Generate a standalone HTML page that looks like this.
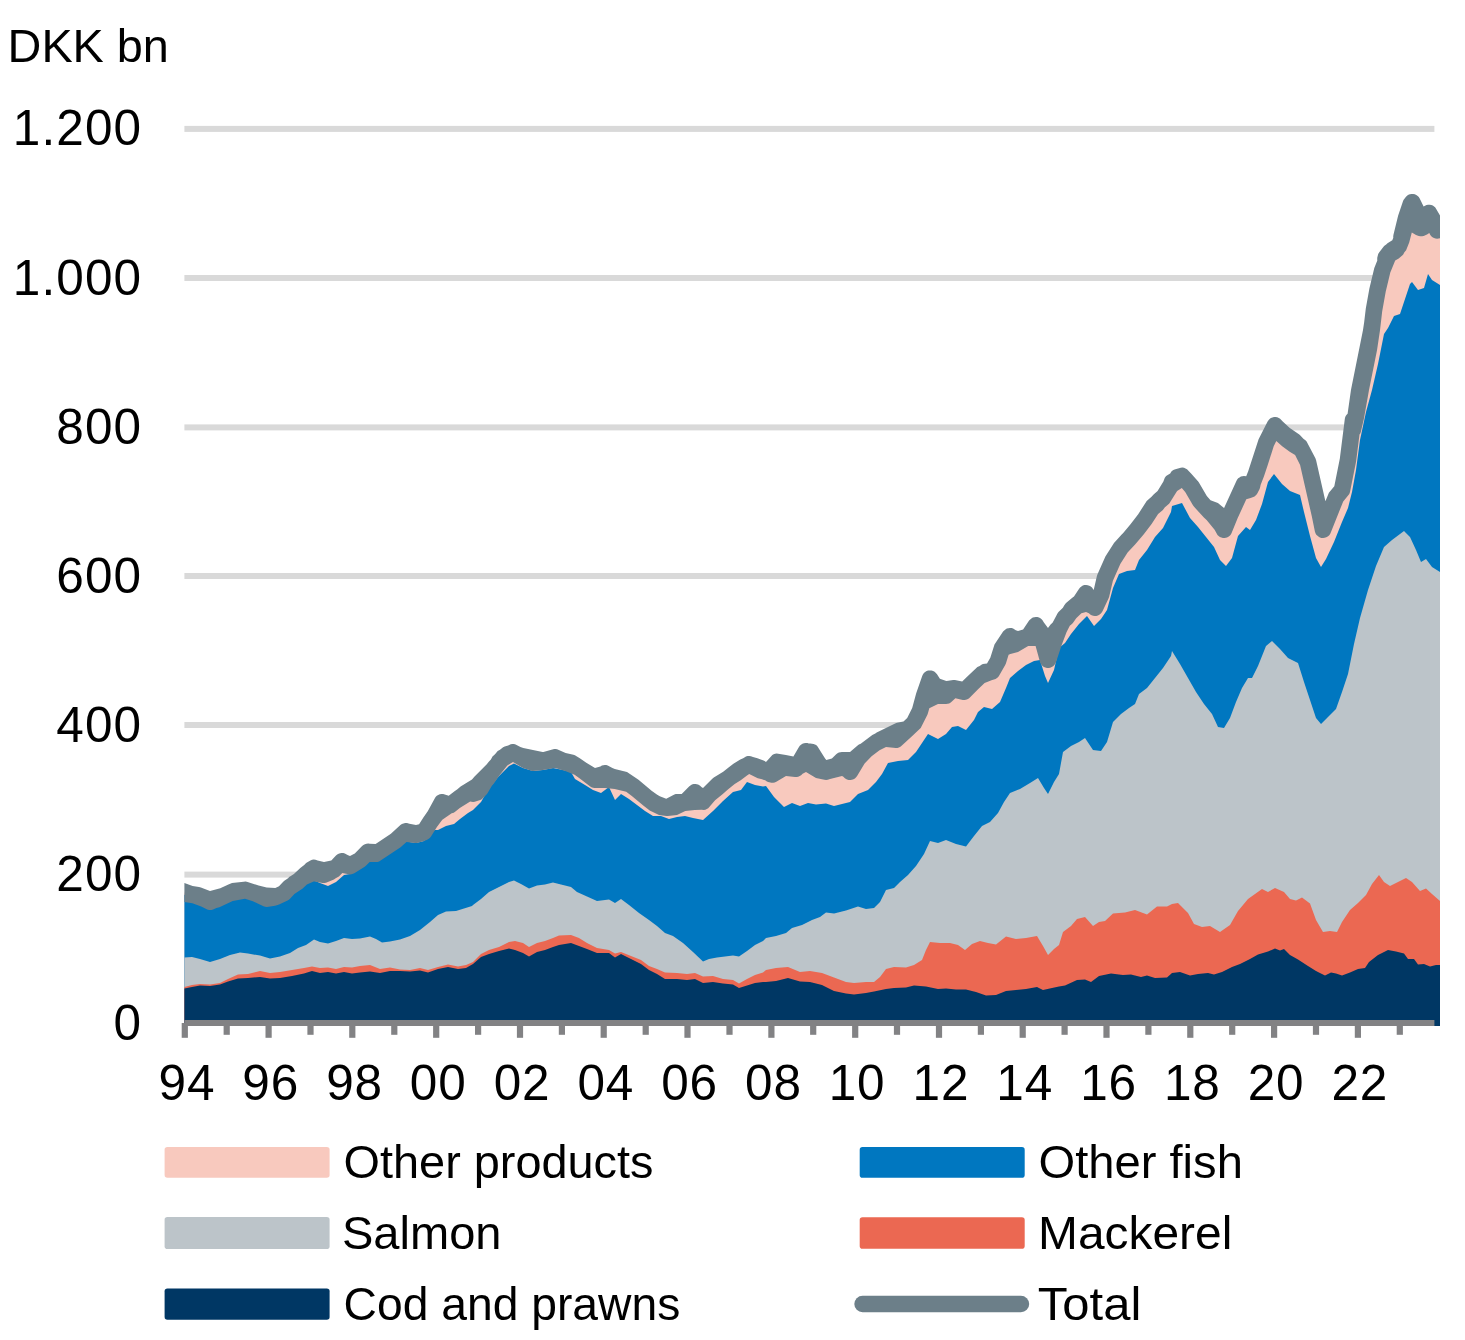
<!DOCTYPE html>
<html lang="en"><head><meta charset="utf-8"><title>Chart</title>
<style>html,body{margin:0;padding:0;background:#fff}svg{display:block}</style></head>
<body>
<svg width="1465" height="1340" viewBox="0 0 1465 1340">
<rect width="1465" height="1340" fill="#fff"/>
<rect x="184.4" y="125.9" width="1250" height="6" fill="#d9d9d9"/>
<rect x="184.4" y="275.0" width="1250" height="6" fill="#d9d9d9"/>
<rect x="184.4" y="424.4" width="1250" height="6" fill="#d9d9d9"/>
<rect x="184.4" y="573.0" width="1250" height="6" fill="#d9d9d9"/>
<rect x="184.4" y="722.0" width="1250" height="6" fill="#d9d9d9"/>
<rect x="184.4" y="871.6" width="1250" height="6" fill="#d9d9d9"/>
<g shape-rendering="geometricPrecision">
<path d="M184.4 892.5 L192.0 894.5 L200.0 896.5 L210.0 901.7 L220.0 897.7 L232.0 892.0 L245.0 889.9 L256.0 893.5 L267.0 898.7 L276.0 896.8 L284.0 893.0 L289.0 887.7 L298.0 881.6 L306.0 874.0 L314.0 867.9 L324.0 874.7 L334.0 869.8 L342.0 861.3 L350.0 866.1 L360.0 860.0 L368.0 851.9 L376.0 853.7 L384.0 848.3 L396.0 840.3 L406.0 831.3 L416.0 834.7 L424.0 832.0 L430.0 822.5 L435.0 815.5 L442.0 802.3 L450.0 805.2 L460.0 797.5 L468.0 792.5 L472.4 789.7 L473.0 793.7 L481.0 785.0 L487.0 779.0 L493.0 770.0 L503.0 757.5 L513.0 752.3 L523.0 758.0 L533.0 762.7 L543.0 761.0 L555.0 757.3 L565.0 762.0 L575.0 765.0 L585.0 772.0 L595.0 779.7 L605.0 773.3 L615.0 779.0 L627.0 782.0 L639.0 791.0 L649.0 799.5 L659.0 805.5 L667.0 807.7 L677.0 802.3 L685.0 802.5 L695.0 792.3 L703.0 801.7 L713.0 790.0 L723.0 783.0 L733.0 774.5 L741.0 769.5 L749.0 764.3 L757.0 768.0 L765.0 770.5 L766.0 772.0 L774.0 768.0 L786.0 765.5 L796.0 768.7 L806.0 751.3 L816.0 761.0 L826.0 771.7 L834.0 768.0 L842.0 760.3 L850.0 771.7 L858.0 758.5 L866.0 750.0 L876.0 742.5 L886.0 737.5 L896.0 739.7 L906.0 730.5 L914.0 723.0 L920.0 711.0 L924.0 696.0 L930.0 678.7 L938.0 691.0 L946.0 695.7 L954.0 688.3 L964.0 691.7 L972.0 683.5 L982.0 674.0 L992.0 671.5 L998.0 661.0 L1002.0 648.0 L1010.0 636.3 L1018.0 641.5 L1028.0 637.0 L1036.0 625.3 L1042.0 638.0 L1048.0 659.7 L1054.0 642.0 L1059.0 628.5 L1065.0 617.0 L1073.0 610.0 L1079.0 604.0 L1086.0 593.3 L1095.0 607.7 L1101.0 595.0 L1105.0 578.0 L1113.0 560.0 L1121.0 547.5 L1129.0 539.0 L1137.0 529.5 L1145.0 519.0 L1153.0 506.5 L1163.0 498.0 L1171.0 485.0 L1172.0 482.0 L1182.0 475.9 L1192.0 487.0 L1200.0 501.0 L1210.0 512.0 L1218.0 518.5 L1224.0 529.7 L1230.0 515.0 L1236.0 502.0 L1244.0 484.3 L1251.0 487.0 L1256.0 474.0 L1260.0 462.0 L1266.0 443.0 L1275.0 425.3 L1282.0 433.5 L1290.0 440.0 L1300.0 446.5 L1308.0 462.0 L1314.0 489.0 L1320.0 515.0 L1323.0 529.7 L1330.0 512.0 L1336.0 497.0 L1342.0 490.0 L1348.0 460.0 L1353.0 420.0 L1355.4 418.0 L1360.0 390.0 L1364.0 370.0 L1368.0 350.0 L1371.6 330.0 L1374.0 310.0 L1377.6 290.0 L1382.4 270.0 L1388.0 256.0 L1393.0 249.4 L1399.0 246.0 L1401.4 239.6 L1404.4 227.8 L1408.0 215.8 L1412.2 202.2 L1417.0 212.0 L1421.2 228.0 L1425.2 220.0 L1429.0 213.0 L1433.0 220.0 L1437.2 230.4 L1440.0 231.4 L1440.0 1026.0 L184.4 1026.0Z" fill="#f8c9be"/>
<path d="M184.4 894.8 L192.0 896.8 L200.0 898.8 L210.0 902.8 L220.0 900.0 L232.0 894.4 L245.0 892.4 L256.0 895.8 L268.0 899.8 L278.0 898.8 L286.0 892.4 L294.0 885.4 L302.0 878.4 L308.0 882.0 L313.0 880.0 L320.0 883.0 L328.0 886.0 L336.0 882.0 L344.0 875.0 L350.0 874.0 L360.0 868.0 L368.0 861.0 L376.0 862.0 L384.0 857.0 L396.0 849.0 L406.0 841.6 L416.0 843.0 L424.0 841.0 L430.0 832.0 L435.0 830.0 L438.0 830.0 L446.0 826.0 L454.0 824.0 L460.0 819.0 L468.0 813.0 L473.0 810.0 L481.0 802.0 L489.0 788.0 L499.0 776.0 L509.0 766.0 L514.0 763.6 L523.0 768.0 L533.0 771.0 L543.0 770.0 L553.0 768.0 L563.0 770.0 L571.0 772.0 L575.0 779.0 L585.0 785.0 L593.0 790.0 L601.0 793.0 L609.0 787.0 L615.0 800.0 L621.0 794.0 L629.0 799.0 L637.0 805.0 L645.0 811.0 L653.0 816.0 L661.0 816.0 L669.0 819.0 L677.0 817.0 L685.0 816.0 L693.0 818.0 L703.0 820.0 L713.0 811.0 L723.0 801.0 L733.0 792.0 L741.0 790.0 L747.0 782.0 L755.0 785.0 L763.0 786.4 L766.0 786.0 L774.0 797.0 L784.0 807.0 L792.0 803.0 L800.0 806.0 L808.0 803.0 L816.0 804.4 L826.0 803.6 L834.0 806.0 L842.0 804.0 L850.0 802.0 L858.0 794.0 L868.0 790.0 L876.0 782.0 L882.0 774.0 L888.0 763.0 L898.0 761.0 L908.0 760.0 L916.0 752.0 L924.0 740.0 L928.0 734.0 L938.0 739.0 L946.0 734.0 L952.0 727.0 L958.0 726.0 L966.0 730.0 L974.0 720.0 L978.0 712.0 L984.0 707.0 L992.0 709.0 L1000.0 702.0 L1006.0 688.0 L1010.0 678.0 L1018.0 671.0 L1026.0 665.0 L1034.0 661.0 L1040.0 660.0 L1045.0 676.0 L1048.0 683.0 L1054.0 670.0 L1059.0 648.0 L1065.0 643.0 L1071.0 634.0 L1079.0 624.0 L1087.0 616.0 L1094.0 626.0 L1101.0 619.0 L1107.0 610.0 L1113.0 588.0 L1119.0 574.0 L1127.0 571.0 L1135.0 570.0 L1139.0 560.0 L1147.0 550.0 L1155.0 537.0 L1163.0 528.0 L1171.0 512.0 L1172.0 506.0 L1182.0 503.0 L1190.0 518.0 L1198.0 527.0 L1206.0 537.0 L1214.0 547.0 L1220.0 560.0 L1226.0 566.0 L1232.0 558.0 L1238.0 536.0 L1246.0 527.0 L1250.0 530.0 L1256.0 520.0 L1262.0 504.0 L1268.0 482.0 L1274.0 474.0 L1282.0 484.0 L1290.0 491.0 L1300.0 495.0 L1304.0 512.0 L1310.0 536.0 L1316.0 558.0 L1321.0 567.0 L1326.0 559.0 L1334.0 542.0 L1342.0 522.0 L1348.0 508.0 L1352.0 492.0 L1356.0 470.0 L1360.0 440.0 L1366.0 412.0 L1372.0 390.0 L1378.0 364.0 L1384.0 334.0 L1388.0 328.0 L1394.0 316.0 L1400.0 314.0 L1404.0 302.0 L1410.0 284.0 L1412.0 282.0 L1418.0 290.0 L1424.0 288.0 L1428.0 274.0 L1432.0 280.0 L1440.0 285.0 L1440.0 1026.0 L184.4 1026.0Z" fill="#0077c0"/>
<path d="M184.4 957.6 L192.0 957.0 L200.0 959.0 L210.0 962.0 L220.0 959.0 L230.0 955.0 L240.0 952.4 L248.0 953.6 L260.0 955.6 L270.0 958.4 L280.0 956.4 L290.0 953.0 L298.0 948.0 L306.0 945.0 L314.0 939.6 L320.0 942.0 L328.0 943.6 L336.0 941.0 L344.0 938.0 L352.0 939.0 L360.0 938.4 L370.0 936.4 L376.0 939.0 L382.0 942.4 L390.0 941.6 L400.0 939.6 L410.0 936.0 L420.0 930.0 L430.0 922.0 L438.0 915.0 L446.0 911.6 L456.0 911.0 L464.0 908.4 L472.0 906.0 L473.0 905.0 L481.0 899.0 L489.0 892.0 L499.0 887.0 L509.0 882.0 L514.0 880.4 L521.0 884.0 L529.0 888.4 L537.0 885.6 L545.0 884.4 L553.0 882.4 L563.0 885.0 L571.0 887.0 L577.0 892.0 L587.0 896.4 L597.0 901.0 L609.0 899.6 L615.0 903.0 L621.0 899.0 L629.0 905.0 L639.0 913.0 L649.0 920.0 L657.0 926.0 L665.0 933.0 L673.0 936.0 L683.0 943.0 L693.0 952.0 L703.0 961.6 L709.0 959.0 L717.0 957.6 L725.0 956.4 L733.0 955.6 L739.0 956.4 L747.0 951.0 L755.0 945.0 L763.0 941.0 L766.0 938.0 L776.0 936.0 L786.0 933.0 L792.0 928.0 L802.0 925.0 L812.0 920.0 L820.0 917.0 L826.0 912.4 L834.0 913.6 L846.0 910.4 L858.0 906.4 L866.0 909.0 L874.0 908.0 L880.0 902.0 L886.0 890.0 L894.0 888.0 L900.0 882.0 L908.0 875.0 L916.0 866.0 L924.0 854.0 L930.0 841.0 L938.0 843.0 L946.0 840.0 L956.0 844.0 L966.0 846.4 L974.0 836.0 L982.0 826.0 L990.0 822.0 L998.0 813.0 L1004.0 802.0 L1010.0 793.0 L1020.0 789.0 L1030.0 783.0 L1038.0 778.0 L1044.0 788.0 L1048.0 794.0 L1054.0 782.0 L1059.0 774.0 L1063.0 752.0 L1071.0 746.0 L1079.0 742.0 L1085.0 738.0 L1093.0 750.0 L1101.0 751.0 L1107.0 742.0 L1113.0 722.0 L1121.0 714.0 L1129.0 708.0 L1135.0 704.0 L1139.0 694.0 L1147.0 688.0 L1155.0 678.0 L1163.0 668.0 L1171.0 656.0 L1172.0 651.0 L1180.0 664.0 L1188.0 678.0 L1196.0 692.0 L1204.0 704.0 L1212.0 714.0 L1218.0 727.0 L1224.0 728.0 L1230.0 718.0 L1236.0 702.0 L1242.0 688.0 L1248.0 678.0 L1252.0 678.0 L1258.0 666.0 L1266.0 646.0 L1272.0 641.0 L1280.0 649.0 L1288.0 658.0 L1298.0 663.0 L1304.0 682.0 L1310.0 700.0 L1316.0 718.0 L1321.0 724.0 L1328.0 717.0 L1336.0 709.0 L1342.0 692.0 L1348.0 674.0 L1354.0 644.0 L1360.0 618.0 L1368.0 590.0 L1376.0 566.0 L1384.0 547.0 L1392.0 540.0 L1400.0 534.0 L1404.0 531.0 L1410.0 537.0 L1416.0 550.0 L1421.0 562.0 L1426.0 559.0 L1432.0 567.0 L1440.0 572.0 L1440.0 1026.0 L184.4 1026.0Z" fill="#bcc4c9"/>
<path d="M184.4 987.0 L192.0 985.0 L200.0 984.0 L210.0 984.4 L220.0 983.0 L228.0 979.0 L238.0 974.4 L248.0 974.0 L260.0 971.0 L270.0 973.0 L280.0 972.0 L292.0 970.0 L304.0 968.0 L312.0 966.4 L320.0 968.0 L328.0 967.6 L336.0 969.0 L344.0 967.0 L352.0 967.6 L360.0 966.0 L370.0 965.0 L380.0 969.0 L390.0 967.6 L400.0 969.6 L410.0 970.0 L420.0 968.0 L428.0 970.0 L438.0 967.0 L448.0 964.4 L458.0 966.4 L466.0 965.0 L473.0 962.0 L481.0 954.0 L489.0 950.0 L499.0 947.0 L509.0 942.0 L515.0 941.0 L523.0 943.0 L529.0 947.0 L537.0 943.0 L545.0 941.0 L553.0 938.0 L559.0 935.6 L571.0 935.0 L579.0 938.0 L587.0 943.0 L597.0 948.0 L609.0 950.0 L615.0 953.6 L621.0 952.0 L631.0 956.0 L641.0 960.0 L649.0 966.0 L657.0 969.0 L665.0 972.4 L677.0 973.0 L687.0 974.0 L695.0 973.0 L703.0 976.4 L713.0 976.0 L723.0 979.0 L733.0 980.0 L739.0 983.6 L747.0 979.0 L755.0 975.0 L763.0 972.4 L766.0 970.0 L776.0 968.0 L788.0 967.0 L800.0 972.0 L810.0 971.0 L822.0 973.0 L834.0 977.6 L846.0 982.0 L854.0 983.0 L866.0 982.0 L874.0 982.0 L880.0 977.0 L886.0 969.0 L894.0 967.0 L906.0 967.6 L914.0 965.0 L922.0 960.0 L926.0 950.0 L930.0 942.0 L940.0 943.0 L950.0 943.0 L958.0 945.0 L965.0 950.0 L972.0 944.0 L980.0 941.0 L988.0 943.0 L996.0 944.4 L1006.0 936.4 L1016.0 939.0 L1026.0 938.0 L1037.0 936.0 L1043.0 946.0 L1048.0 955.0 L1054.0 949.0 L1059.0 945.0 L1063.0 932.0 L1071.0 926.0 L1077.0 919.0 L1085.0 917.0 L1093.0 926.0 L1099.0 922.0 L1105.0 921.0 L1113.0 913.6 L1125.0 912.4 L1135.0 910.0 L1147.0 914.4 L1157.0 906.4 L1167.0 906.4 L1172.0 904.0 L1178.0 903.0 L1188.0 913.0 L1194.0 924.0 L1202.0 927.0 L1210.0 926.0 L1220.0 932.0 L1230.0 925.0 L1238.0 911.0 L1248.0 899.0 L1262.0 889.0 L1268.0 892.0 L1275.0 888.0 L1284.0 892.0 L1290.0 899.0 L1296.0 900.4 L1302.0 897.6 L1310.0 903.6 L1316.0 920.0 L1323.0 932.0 L1330.0 931.0 L1337.0 932.0 L1342.0 922.0 L1350.0 910.0 L1358.0 903.0 L1366.0 895.0 L1372.0 884.0 L1379.0 875.0 L1384.0 882.0 L1390.0 886.0 L1398.0 882.0 L1406.0 878.0 L1412.0 882.0 L1420.0 891.0 L1426.0 888.4 L1432.0 894.0 L1440.0 901.0 L1440.0 1026.0 L184.4 1026.0Z" fill="#eb6852"/>
<path d="M184.4 988.4 L192.0 987.0 L200.0 985.6 L210.0 986.0 L220.0 984.4 L228.0 981.6 L238.0 978.4 L248.0 978.0 L260.0 977.0 L270.0 978.4 L280.0 978.0 L292.0 976.0 L304.0 973.6 L312.0 971.0 L320.0 973.0 L328.0 972.0 L336.0 973.6 L344.0 972.0 L352.0 973.6 L360.0 972.4 L370.0 971.6 L380.0 973.0 L390.0 971.0 L400.0 971.0 L410.0 971.6 L420.0 970.4 L428.0 972.4 L438.0 969.0 L448.0 967.0 L458.0 969.0 L466.0 968.0 L473.0 964.0 L481.0 957.0 L489.0 954.0 L499.0 951.0 L509.0 948.4 L515.0 950.0 L523.0 953.0 L529.0 956.4 L537.0 952.0 L545.0 950.0 L553.0 947.0 L559.0 945.0 L571.0 943.0 L579.0 946.0 L587.0 949.0 L597.0 953.0 L609.0 953.0 L615.0 957.6 L621.0 954.0 L631.0 959.0 L641.0 964.0 L649.0 970.0 L657.0 974.0 L665.0 979.0 L677.0 979.0 L687.0 980.0 L695.0 979.0 L703.0 983.0 L713.0 982.0 L723.0 983.6 L733.0 984.4 L739.0 988.0 L747.0 985.6 L755.0 983.0 L763.0 982.0 L766.0 982.0 L776.0 981.0 L788.0 978.0 L800.0 981.6 L810.0 982.0 L822.0 985.0 L834.0 991.0 L846.0 993.6 L854.0 994.4 L866.0 993.0 L874.0 991.6 L886.0 989.0 L894.0 988.0 L906.0 987.6 L914.0 985.6 L926.0 986.4 L938.0 989.0 L946.0 988.6 L956.0 989.6 L966.0 989.6 L976.0 992.0 L986.0 995.6 L996.0 995.0 L1006.0 991.0 L1016.0 990.0 L1026.0 989.0 L1037.0 987.0 L1043.0 990.0 L1052.0 988.0 L1059.0 986.4 L1065.0 985.6 L1077.0 980.0 L1085.0 979.6 L1091.0 982.0 L1099.0 976.0 L1111.0 973.6 L1123.0 975.0 L1131.0 974.4 L1141.0 977.0 L1147.0 975.6 L1155.0 978.0 L1167.0 977.6 L1172.0 973.0 L1180.0 972.0 L1190.0 975.6 L1198.0 974.0 L1208.0 973.0 L1214.0 974.4 L1222.0 972.0 L1232.0 967.0 L1240.0 964.0 L1250.0 959.0 L1258.0 954.4 L1268.0 951.6 L1275.0 948.4 L1280.0 950.4 L1284.0 949.0 L1290.0 955.0 L1298.0 959.6 L1308.0 966.0 L1316.0 971.0 L1325.0 975.6 L1331.0 972.4 L1336.0 973.6 L1342.0 975.6 L1350.0 972.4 L1358.0 969.0 L1365.0 968.0 L1369.0 962.0 L1378.0 955.0 L1388.0 950.0 L1396.0 951.6 L1404.0 953.6 L1408.0 959.0 L1414.0 959.0 L1418.0 964.4 L1424.0 964.0 L1430.0 966.4 L1436.0 965.0 L1440.0 965.0 L1440.0 1026.0 L184.4 1026.0Z" fill="#003764"/>
</g>
<rect x="184.4" y="1020" width="1250" height="6" fill="#828284"/>
<rect x="181.7" y="1023" width="6.2" height="14.8" fill="#828284"/>
<rect x="223.6" y="1023" width="6.2" height="11.8" fill="#828284"/>
<rect x="265.5" y="1023" width="6.2" height="14.8" fill="#828284"/>
<rect x="307.4" y="1023" width="6.2" height="11.8" fill="#828284"/>
<rect x="349.2" y="1023" width="6.2" height="14.8" fill="#828284"/>
<rect x="391.2" y="1023" width="6.2" height="11.8" fill="#828284"/>
<rect x="433.1" y="1023" width="6.2" height="14.8" fill="#828284"/>
<rect x="475.0" y="1023" width="6.2" height="11.8" fill="#828284"/>
<rect x="516.9" y="1023" width="6.2" height="14.8" fill="#828284"/>
<rect x="558.8" y="1023" width="6.2" height="11.8" fill="#828284"/>
<rect x="600.6" y="1023" width="6.2" height="14.8" fill="#828284"/>
<rect x="642.6" y="1023" width="6.2" height="11.8" fill="#828284"/>
<rect x="684.4" y="1023" width="6.2" height="14.8" fill="#828284"/>
<rect x="726.4" y="1023" width="6.2" height="11.8" fill="#828284"/>
<rect x="768.3" y="1023" width="6.2" height="14.8" fill="#828284"/>
<rect x="810.1" y="1023" width="6.2" height="11.8" fill="#828284"/>
<rect x="852.1" y="1023" width="6.2" height="14.8" fill="#828284"/>
<rect x="893.9" y="1023" width="6.2" height="11.8" fill="#828284"/>
<rect x="935.9" y="1023" width="6.2" height="14.8" fill="#828284"/>
<rect x="977.8" y="1023" width="6.2" height="11.8" fill="#828284"/>
<rect x="1019.6" y="1023" width="6.2" height="14.8" fill="#828284"/>
<rect x="1061.5" y="1023" width="6.2" height="11.8" fill="#828284"/>
<rect x="1103.4" y="1023" width="6.2" height="14.8" fill="#828284"/>
<rect x="1145.3" y="1023" width="6.2" height="11.8" fill="#828284"/>
<rect x="1187.2" y="1023" width="6.2" height="14.8" fill="#828284"/>
<rect x="1229.1" y="1023" width="6.2" height="11.8" fill="#828284"/>
<rect x="1271.0" y="1023" width="6.2" height="14.8" fill="#828284"/>
<rect x="1312.9" y="1023" width="6.2" height="11.8" fill="#828284"/>
<rect x="1354.8" y="1023" width="6.2" height="14.8" fill="#828284"/>
<rect x="1396.7" y="1023" width="6.2" height="11.8" fill="#828284"/>
<path d="M1164.7 507.4 L1169.3 503.4 L1177.1 490.9 L1181.8 488.1 L1185.2 491.9 L1192.8 505.1 L1193.9 506.6 L1203.9 517.6 L1206.6 520.0 L1214.6 529.8 L1217.5 534.9 L1218.6 536.0 L1219.9 536.9 L1221.4 537.6 L1222.9 537.9 L1224.4 538.0 L1226.0 537.8 L1227.5 537.2 L1228.8 536.5 L1230.0 535.4 L1231.0 534.2 L1231.7 532.8 L1237.6 518.3 L1246.3 499.3 L1250.6 498.1 L1253.3 497.1 L1254.5 496.5 L1255.6 495.6 L1256.6 494.6 L1257.3 493.4 L1259.6 488.9 L1260.2 487.0 L1260.6 485.1 L1263.9 476.6 L1267.9 464.6 L1273.7 446.2 L1276.3 441.1 L1282.2 446.2 L1289.7 451.8 L1295.1 455.0 L1300.1 464.9 L1311.9 516.8 L1314.9 531.4 L1315.4 532.9 L1316.1 534.4 L1317.2 535.6 L1318.4 536.6 L1319.9 537.4 L1321.5 537.9 L1323.1 538.0 L1324.7 537.8 L1326.3 537.3 L1327.7 536.5 L1329.0 535.5 L1330.0 534.2 L1330.7 532.8 L1343.2 501.4 L1349.1 494.3 L1349.7 493.0 L1350.1 491.6 L1356.1 461.6 L1359.5 434.6 L1360.4 433.2 L1360.9 431.7 L1364.0 418.2 L1369.0 390.0 L1377.0 350.2 L1380.0 330.2 L1382.2 311.2 L1385.7 291.7 L1390.3 272.5 L1395.2 260.4 L1398.7 258.4 L1402.2 255.5 L1403.2 254.4 L1404.4 252.2 L1406.1 250.2 L1409.2 242.5 L1411.8 232.4 L1416.0 234.9 L1418.7 235.9 L1420.3 236.3 L1422.0 236.3 L1423.7 235.9 L1427.0 234.4 L1429.3 232.9 L1430.3 234.9 L1431.3 236.2 L1432.5 237.3 L1434.0 238.0 L1435.5 238.5 L1437.1 238.7 L1440.0 238.3 L1440.0 215.5 L1436.2 208.9 L1435.3 207.6 L1434.1 206.5 L1432.8 205.6 L1431.3 205.0 L1429.7 204.7 L1428.1 204.7 L1426.5 205.1 L1423.6 206.6 L1419.7 198.5 L1418.8 197.1 L1417.7 195.9 L1416.3 195.0 L1414.8 194.3 L1413.2 194.0 L1411.6 193.9 L1409.9 194.2 L1408.4 194.8 L1407.0 195.7 L1405.8 196.9 L1403.5 200.0 L1402.9 201.4 L1398.1 215.7 L1393.4 235.1 L1393.2 236.7 L1393.3 237.7 L1392.3 240.3 L1387.5 243.2 L1386.2 244.6 L1384.1 246.1 L1379.1 252.6 L1378.2 254.1 L1377.3 257.6 L1377.2 259.2 L1377.3 260.4 L1374.3 268.1 L1369.4 288.5 L1365.8 308.5 L1364.2 322.0 L1363.0 329.9 L1351.0 389.8 L1347.6 413.7 L1346.6 414.7 L1345.7 416.0 L1345.1 417.4 L1344.8 419.0 L1339.8 458.7 L1334.3 486.2 L1328.9 492.7 L1325.4 501.3 L1316.1 460.2 L1315.4 458.2 L1306.6 441.5 L1305.7 440.4 L1303.4 438.8 L1300.6 435.7 L1299.3 434.5 L1289.8 427.9 L1283.0 421.8 L1280.1 418.8 L1278.8 417.9 L1277.3 417.3 L1275.6 417.0 L1274.0 417.1 L1272.4 417.4 L1270.9 418.1 L1269.6 419.0 L1268.5 420.2 L1267.6 421.5 L1258.6 439.2 L1248.2 471.2 L1246.2 476.3 L1243.9 476.0 L1242.4 476.2 L1240.9 476.6 L1239.5 477.4 L1238.2 478.3 L1237.2 479.5 L1236.4 480.9 L1224.1 507.9 L1223.7 507.7 L1217.9 503.1 L1210.5 500.2 L1206.8 496.1 L1199.2 482.9 L1198.2 481.4 L1191.3 473.7 L1187.0 469.2 L1185.5 468.4 L1184.0 467.8 L1182.4 467.6 L1180.7 467.7 L1175.4 469.2 L1173.9 469.7 L1172.6 470.5 L1171.4 471.6 L1170.2 473.4 L1167.7 474.9 L1166.5 475.8 L1165.5 476.8 L1164.7 478.0 L1163.4 481.5 L1157.6 490.9 L1153.6 494.5 L1151.8 496.6 L1146.7 501.0 L1138.2 514.2 L1130.5 524.3 L1123.0 533.3 L1121.7 534.4 L1114.0 543.0 L1105.4 556.6 L1097.4 574.6 L1096.9 576.1 L1093.7 589.9 L1092.0 587.6 L1090.8 586.5 L1089.3 585.7 L1087.7 585.2 L1086.1 585.0 L1084.4 585.1 L1082.8 585.6 L1081.4 586.4 L1080.1 587.5 L1079.1 588.8 L1074.0 596.5 L1072.3 597.7 L1066.0 603.1 L1064.3 605.2 L1062.9 607.8 L1058.5 611.9 L1057.6 613.2 L1052.7 622.6 L1051.7 623.4 L1050.6 624.5 L1048.0 627.9 L1043.9 622.6 L1042.7 620.4 L1041.6 619.2 L1040.4 618.3 L1039.0 617.5 L1037.4 617.1 L1035.9 617.0 L1034.3 617.2 L1032.8 617.6 L1031.4 618.4 L1030.2 619.4 L1029.1 620.6 L1023.1 629.5 L1018.0 631.0 L1015.8 630.2 L1013.1 628.6 L1011.6 628.1 L1010.0 628.0 L1008.4 628.2 L1006.8 628.6 L1005.4 629.4 L1004.2 630.4 L1003.1 631.6 L994.5 644.4 L990.3 657.7 L987.0 663.5 L982.9 664.1 L981.4 664.7 L979.7 666.0 L977.4 667.1 L966.3 677.5 L962.2 681.6 L954.9 680.1 L953.2 680.0 L946.5 680.9 L945.6 680.8 L939.9 678.7 L937.0 674.2 L935.9 672.9 L934.6 671.8 L933.1 671.0 L931.5 670.5 L929.8 670.4 L928.2 670.6 L926.6 671.1 L925.1 672.0 L923.9 673.1 L922.9 674.5 L922.2 676.0 L916.2 693.3 L912.2 708.0 L907.2 718.0 L903.5 721.5 L897.0 722.8 L895.1 723.5 L876.7 732.6 L875.3 733.6 L872.3 735.1 L871.0 735.9 L860.7 743.7 L858.9 744.6 L857.3 745.7 L850.0 752.0 L843.4 752.1 L842.0 752.0 L840.4 752.2 L838.9 752.6 L837.5 753.3 L836.2 754.3 L831.9 758.5 L826.3 759.9 L825.1 758.6 L818.0 747.2 L817.2 746.1 L816.1 745.1 L814.9 744.4 L813.6 743.9 L810.4 743.4 L808.7 743.5 L807.4 743.1 L805.7 743.0 L804.0 743.2 L802.4 743.8 L801.0 744.7 L799.8 745.8 L798.8 747.2 L793.4 756.5 L785.9 755.0 L778.2 753.7 L776.7 753.6 L775.1 753.8 L773.6 754.3 L772.3 755.1 L771.2 756.2 L766.0 761.9 L764.6 761.0 L763.5 760.4 L757.4 758.2 L753.0 757.0 L750.9 756.2 L749.2 756.0 L747.6 756.1 L746.0 756.6 L743.2 758.2 L740.3 759.4 L733.4 763.8 L727.6 768.2 L723.2 771.8 L713.8 777.5 L712.3 778.7 L703.0 788.0 L701.7 787.3 L700.1 785.7 L698.6 784.8 L697.0 784.2 L695.3 784.0 L693.6 784.1 L691.9 784.6 L690.4 785.4 L689.1 786.5 L681.7 794.0 L677.2 794.0 L675.8 794.1 L674.4 794.4 L666.2 798.7 L659.8 796.3 L657.2 794.7 L651.6 790.8 L638.5 779.7 L627.0 772.1 L614.8 768.9 L612.4 767.9 L607.7 765.5 L606.3 765.1 L604.8 765.0 L603.3 765.2 L601.9 765.6 L600.4 766.4 L595.0 768.0 L586.3 762.8 L579.8 758.2 L574.9 755.2 L573.4 754.7 L565.6 753.1 L557.1 749.3 L555.6 749.0 L554.1 749.1 L543.4 751.9 L542.6 751.9 L523.3 748.1 L520.4 746.9 L515.6 744.4 L514.0 744.1 L512.3 744.0 L510.7 744.3 L508.2 745.4 L504.7 746.5 L503.1 747.2 L500.0 749.7 L497.7 751.1 L495.0 754.2 L492.5 756.6 L490.9 759.4 L489.0 761.4 L486.8 764.2 L474.1 776.9 L472.0 779.6 L460.6 786.6 L457.4 789.3 L454.9 790.9 L448.7 795.7 L443.2 794.1 L441.5 794.0 L439.8 794.3 L438.2 794.9 L436.8 795.8 L435.6 797.0 L434.7 798.4 L427.9 811.1 L423.2 817.7 L419.1 824.2 L416.0 825.0 L409.4 823.7 L407.0 823.1 L405.2 823.0 L403.5 823.4 L401.9 824.1 L400.4 825.1 L390.9 833.7 L375.6 844.0 L369.9 843.8 L368.2 843.6 L366.5 843.7 L364.9 844.2 L363.4 845.0 L362.1 846.1 L354.8 853.4 L350.0 856.0 L348.1 855.3 L344.8 853.5 L343.3 853.1 L341.7 853.0 L340.1 853.2 L338.6 853.7 L337.2 854.6 L336.0 855.6 L331.3 860.5 L324.0 862.0 L317.6 860.5 L315.5 859.7 L313.8 859.6 L312.1 859.8 L310.4 860.4 L306.1 863.1 L304.2 864.9 L300.3 868.0 L293.9 874.1 L290.4 876.2 L289.1 877.1 L288.1 878.3 L284.3 880.8 L283.0 882.0 L279.0 886.2 L275.3 888.0 L266.6 887.5 L258.6 885.6 L247.6 882.0 L245.6 881.6 L243.7 881.7 L232.0 883.1 L228.4 884.5 L220.3 888.3 L210.0 891.0 L200.9 887.4 L199.0 886.9 L192.6 886.1 L184.4 883.1 L184.4 902.0 L192.4 903.2 L201.2 906.5 L206.2 909.1 L207.8 909.7 L209.6 910.0 L211.4 909.9 L213.1 909.4 L216.4 908.1 L219.4 907.2 L232.7 900.9 L245.0 898.7 L252.9 901.2 L263.5 906.2 L265.1 906.8 L266.9 907.0 L268.7 906.8 L275.0 905.8 L277.7 904.9 L279.6 904.3 L287.6 900.5 L288.9 899.7 L290.0 898.7 L294.4 894.1 L302.7 888.5 L306.9 884.6 L313.7 881.6 L314.4 881.5 L322.5 882.9 L324.3 883.0 L326.0 882.8 L333.9 879.5 L335.7 878.2 L338.9 876.5 L342.3 873.1 L348.5 874.3 L350.0 874.4 L351.5 874.3 L353.0 873.8 L354.3 873.2 L364.3 867.1 L365.9 865.8 L369.7 862.0 L377.5 861.9 L379.2 861.4 L380.6 860.6 L400.6 847.2 L406.5 842.0 L415.1 842.9 L416.9 843.0 L422.3 841.4 L426.7 839.9 L428.4 839.1 L429.8 837.9 L431.0 836.4 L436.9 827.1 L442.3 819.8 L451.7 813.3 L453.7 812.7 L455.1 811.8 L459.8 808.1 L470.2 801.5 L471.4 801.8 L473.1 802.0 L474.8 801.8 L477.1 800.9 L480.2 800.1 L481.4 799.4 L482.5 798.5 L486.3 794.7 L487.5 793.2 L491.9 785.8 L493.9 783.6 L499.7 774.9 L507.3 765.4 L513.0 762.0 L522.2 767.5 L523.9 768.3 L527.9 769.5 L531.1 770.8 L532.7 771.0 L542.7 770.0 L554.6 768.1 L555.4 768.1 L565.2 771.1 L574.6 774.8 L580.1 778.7 L589.9 786.3 L591.4 787.2 L593.0 787.7 L594.6 788.0 L605.2 788.0 L614.7 789.0 L626.2 791.8 L631.5 795.8 L643.6 805.8 L649.7 810.4 L659.0 814.9 L666.4 816.0 L667.9 815.9 L677.0 814.9 L685.3 811.0 L694.8 810.0 L701.6 809.8 L703.8 810.0 L705.4 809.7 L706.8 809.1 L708.2 808.2 L709.3 807.1 L715.1 800.3 L722.8 794.1 L727.3 790.1 L734.7 783.9 L740.7 780.2 L747.0 775.5 L749.2 774.1 L756.2 777.6 L757.8 778.2 L762.1 779.3 L763.1 779.8 L765.2 780.2 L766.5 781.3 L768.1 782.1 L771.4 782.7 L773.1 782.7 L774.7 782.4 L776.3 781.7 L786.0 776.0 L795.0 776.9 L796.7 777.0 L798.2 776.7 L799.7 776.1 L801.1 775.3 L802.6 773.7 L806.0 772.0 L816.0 777.9 L824.4 779.8 L826.1 780.0 L827.8 779.8 L830.0 779.0 L842.0 776.0 L843.4 776.7 L844.3 777.7 L845.6 778.7 L847.0 779.5 L848.6 779.9 L850.3 780.0 L851.9 779.8 L853.5 779.2 L854.9 778.4 L856.1 777.3 L857.1 776.0 L864.6 763.6 L871.6 756.2 L879.5 750.2 L886.0 747.0 L895.8 748.0 L897.4 747.9 L898.9 747.5 L900.4 746.8 L901.6 745.8 L911.7 736.6 L920.7 728.0 L927.4 714.7 L928.0 713.1 L929.3 708.2 L938.0 704.1 L944.6 703.9 L946.1 704.0 L947.6 703.8 L949.1 703.4 L950.4 702.7 L951.6 701.8 L955.4 698.3 L962.8 699.9 L964.4 700.0 L965.9 699.8 L967.4 699.3 L968.8 698.5 L969.9 697.5 L977.8 689.4 L984.6 682.9 L991.5 680.2 L995.6 679.0 L997.0 678.1 L998.2 677.0 L999.2 675.6 L1005.2 665.1 L1005.9 663.4 L1008.6 654.8 L1010.4 653.9 L1018.0 651.9 L1028.2 646.0 L1035.6 646.0 L1040.0 661.9 L1040.6 663.4 L1041.4 664.8 L1042.6 666.0 L1043.9 666.9 L1045.4 667.6 L1047.0 667.9 L1048.6 668.0 L1050.2 667.7 L1051.7 667.1 L1053.1 666.3 L1054.2 665.2 L1055.2 663.8 L1055.9 662.4 L1061.8 644.8 L1066.6 631.9 L1069.8 625.8 L1072.2 623.7 L1073.6 622.1 L1076.2 618.3 L1081.4 613.3 L1086.0 612.0 L1088.9 613.3 L1090.2 614.4 L1091.6 615.3 L1093.1 615.8 L1094.7 616.0 L1096.3 615.9 L1097.9 615.5 L1099.3 614.8 L1100.6 613.8 L1101.7 612.6 L1102.5 611.2 L1108.5 598.5 L1109.1 596.9 L1112.9 580.7 L1120.3 563.9 L1127.6 552.6 L1135.3 544.3 L1143.6 534.5 L1151.6 524.0 L1158.1 513.9 L1162.9 509.9Z" fill="#6c7f89" fill-rule="evenodd"/>
<text x="7.6" y="62.3" font-size="46.8" font-family="'Liberation Sans', sans-serif" fill="#000">DKK bn</text>
<text x="142.2" y="145.4" font-size="49.5" letter-spacing="1.1" text-anchor="end" font-family="'Liberation Sans', sans-serif" fill="#000">1.200</text>
<text x="142.2" y="294.5" font-size="49.5" letter-spacing="1.1" text-anchor="end" font-family="'Liberation Sans', sans-serif" fill="#000">1.000</text>
<text x="142.2" y="443.9" font-size="49.5" letter-spacing="1.1" text-anchor="end" font-family="'Liberation Sans', sans-serif" fill="#000">800</text>
<text x="142.2" y="592.5" font-size="49.5" letter-spacing="1.1" text-anchor="end" font-family="'Liberation Sans', sans-serif" fill="#000">600</text>
<text x="142.2" y="741.5" font-size="49.5" letter-spacing="1.1" text-anchor="end" font-family="'Liberation Sans', sans-serif" fill="#000">400</text>
<text x="142.2" y="891.1" font-size="49.5" letter-spacing="1.1" text-anchor="end" font-family="'Liberation Sans', sans-serif" fill="#000">200</text>
<text x="142.2" y="1039.8" font-size="49.5" letter-spacing="1.1" text-anchor="end" font-family="'Liberation Sans', sans-serif" fill="#000">0</text>
<text x="186.9" y="1100.4" font-size="49.5" letter-spacing="0.8" text-anchor="middle" font-family="'Liberation Sans', sans-serif" fill="#000">94</text>
<text x="270.7" y="1100.4" font-size="49.5" letter-spacing="0.8" text-anchor="middle" font-family="'Liberation Sans', sans-serif" fill="#000">96</text>
<text x="354.5" y="1100.4" font-size="49.5" letter-spacing="0.8" text-anchor="middle" font-family="'Liberation Sans', sans-serif" fill="#000">98</text>
<text x="438.2" y="1100.4" font-size="49.5" letter-spacing="0.8" text-anchor="middle" font-family="'Liberation Sans', sans-serif" fill="#000">00</text>
<text x="522.0" y="1100.4" font-size="49.5" letter-spacing="0.8" text-anchor="middle" font-family="'Liberation Sans', sans-serif" fill="#000">02</text>
<text x="605.8" y="1100.4" font-size="49.5" letter-spacing="0.8" text-anchor="middle" font-family="'Liberation Sans', sans-serif" fill="#000">04</text>
<text x="689.6" y="1100.4" font-size="49.5" letter-spacing="0.8" text-anchor="middle" font-family="'Liberation Sans', sans-serif" fill="#000">06</text>
<text x="773.4" y="1100.4" font-size="49.5" letter-spacing="0.8" text-anchor="middle" font-family="'Liberation Sans', sans-serif" fill="#000">08</text>
<text x="857.1" y="1100.4" font-size="49.5" letter-spacing="0.8" text-anchor="middle" font-family="'Liberation Sans', sans-serif" fill="#000">10</text>
<text x="940.9" y="1100.4" font-size="49.5" letter-spacing="0.8" text-anchor="middle" font-family="'Liberation Sans', sans-serif" fill="#000">12</text>
<text x="1024.7" y="1100.4" font-size="49.5" letter-spacing="0.8" text-anchor="middle" font-family="'Liberation Sans', sans-serif" fill="#000">14</text>
<text x="1108.5" y="1100.4" font-size="49.5" letter-spacing="0.8" text-anchor="middle" font-family="'Liberation Sans', sans-serif" fill="#000">16</text>
<text x="1192.3" y="1100.4" font-size="49.5" letter-spacing="0.8" text-anchor="middle" font-family="'Liberation Sans', sans-serif" fill="#000">18</text>
<text x="1276.0" y="1100.4" font-size="49.5" letter-spacing="0.8" text-anchor="middle" font-family="'Liberation Sans', sans-serif" fill="#000">20</text>
<text x="1359.8" y="1100.4" font-size="49.5" letter-spacing="0.8" text-anchor="middle" font-family="'Liberation Sans', sans-serif" fill="#000">22</text>
<rect x="164.6" y="1146.9" width="165" height="30.9" rx="2.8" fill="#f8c9be"/>
<rect x="164.6" y="1216.9" width="165" height="32.2" rx="2.8" fill="#bcc4c9"/>
<rect x="164.6" y="1288.4" width="165" height="31.4" rx="2.8" fill="#003764"/>
<rect x="859.7" y="1147.1" width="165" height="30.6" rx="2.8" fill="#0077c0"/>
<rect x="859.7" y="1217.3" width="165" height="31.4" rx="2.8" fill="#eb6852"/>
<line x1="862.6" y1="1304" x2="1020.9" y2="1304" stroke="#6c7f89" stroke-width="16.6" stroke-linecap="round"/>
<text transform="translate(343.6 1178.4) scale(1.001 1)" font-size="46.8" font-family="'Liberation Sans', sans-serif" fill="#000">Other products</text>
<text transform="translate(342.0 1249.2) scale(1.005 1)" font-size="46.8" font-family="'Liberation Sans', sans-serif" fill="#000">Salmon</text>
<text transform="translate(343.6 1319.5) scale(0.988 1)" font-size="46.8" font-family="'Liberation Sans', sans-serif" fill="#000">Cod and prawns</text>
<text transform="translate(1038.6 1178.4) scale(1.007 1)" font-size="46.8" font-family="'Liberation Sans', sans-serif" fill="#000">Other fish</text>
<text transform="translate(1038.0 1249.2) scale(1.0235 1)" font-size="46.8" font-family="'Liberation Sans', sans-serif" fill="#000">Mackerel</text>
<text transform="translate(1037.8 1319.8) scale(1.047 1)" font-size="46.8" font-family="'Liberation Sans', sans-serif" fill="#000">Total</text>
</svg>
</body></html>
